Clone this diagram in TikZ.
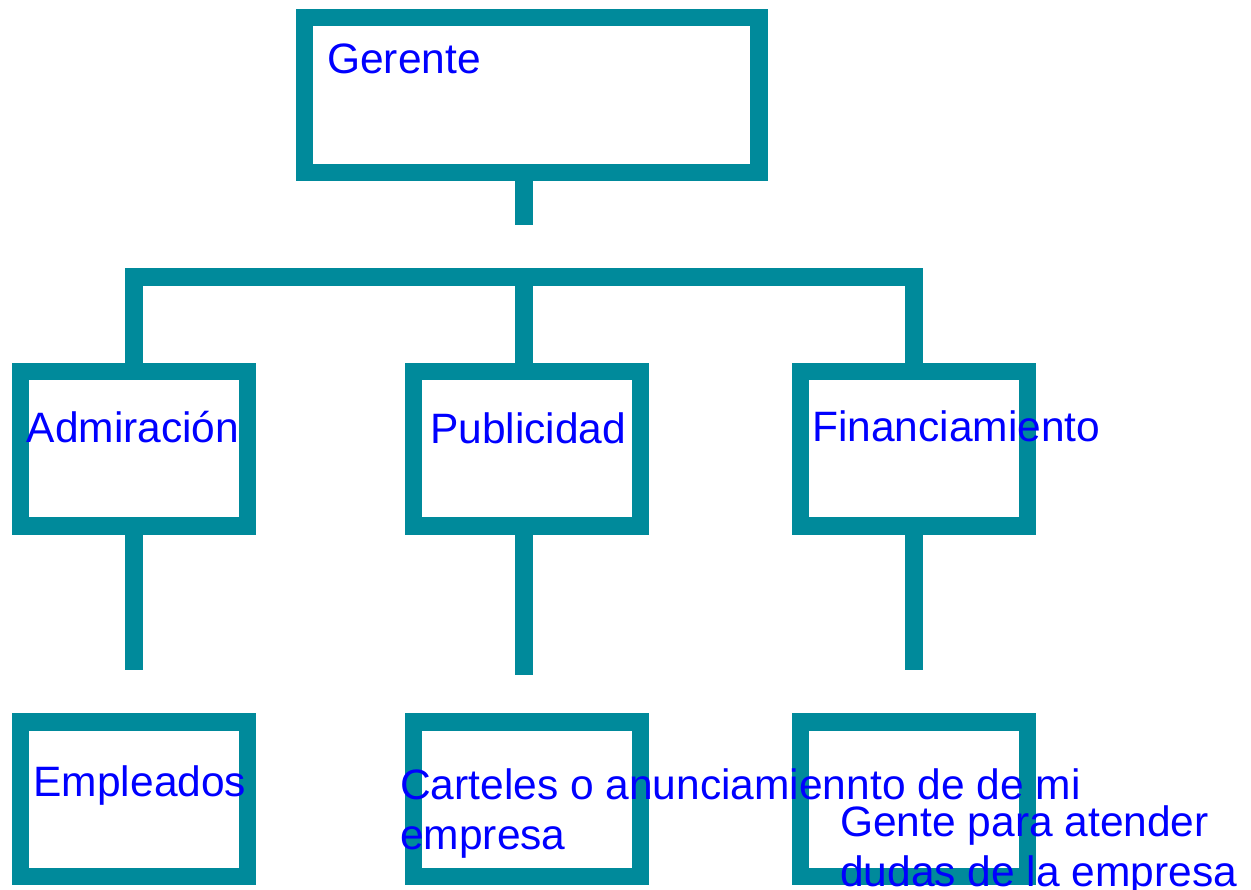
\documentclass[tikz,border=0pt]{standalone}
\usepackage{fontspec}
\setmainfont{Liberation Sans}
\definecolor{orgteal}{RGB}{0,138,155}
\definecolor{orgblue}{RGB}{0,0,255}
\tikzset{
  unitbox/.style={rectangle, draw=orgteal, line width=17.4pt, inner sep=0pt,
    minimum width=227pt, minimum height=154.5pt},
  link/.style={draw=orgteal, line width=17.4pt},
  boxtext/.style={text=orgblue, font=\fontsize{42.5}{50}\selectfont,
    inner sep=0pt, anchor=base west}
}
\begin{document}
\begin{tikzpicture}[x=1pt,y=-1pt]
    \useasboundingbox (0,0) rectangle (1251,890);

    \node[unitbox, minimum width=454.7pt] (ger) at (531.6,95.05) {};
    \node[unitbox] (adm) at (133.85,448.65) {};
    \node[unitbox] (pub) at (527.1,448.65) {};
    \node[unitbox] (fin) at (913.85,448.65) {};
    \node[unitbox] (emp) at (133.85,799.35) {};
    \node[unitbox] (car) at (527.1,799.35) {};
    \node[unitbox] (gen) at (913.85,799.35) {};

    \coordinate (gerend) at (524,225.3);
    \coordinate (hub) at (524,277);
    \coordinate (admend) at (134,669.5);
    \coordinate (pubend) at (524,675.3);
    \coordinate (finend) at (914,669.7);

    \draw[link] (gerend |- ger.south) -- (gerend);
    \draw[link] (adm.north) |- (hub) -| (fin.north);
    \draw[link] (hub) -- (hub |- pub.north);
    \draw[link] (admend |- adm.south) -- (admend);
    \draw[link] (pubend |- pub.south) -- (pubend);
    \draw[link] (finend |- fin.south) -- (finend);

    \node[boxtext] (gertext) at (327,74) {Gerente};
    \node[boxtext] (admtext) at (26.5,442.7) {Admiración};
    \node[boxtext] (pubtext) at (430,444) {Publicidad};
    \node[boxtext] (fintext) at (812,441.7) {Financiamiento};
    \node[boxtext] (emptext) at (33.4,796.7) {Empleados};
    \node[boxtext, align=left] (cartext) at (400,849.3) {Carteles o anunciamiennto de de mi\\empresa};
    \node[boxtext, align=left] (gentext) at (840,886.7) {Gente para atender\\dudas de la empresa};

  \end{tikzpicture}
\end{document}
